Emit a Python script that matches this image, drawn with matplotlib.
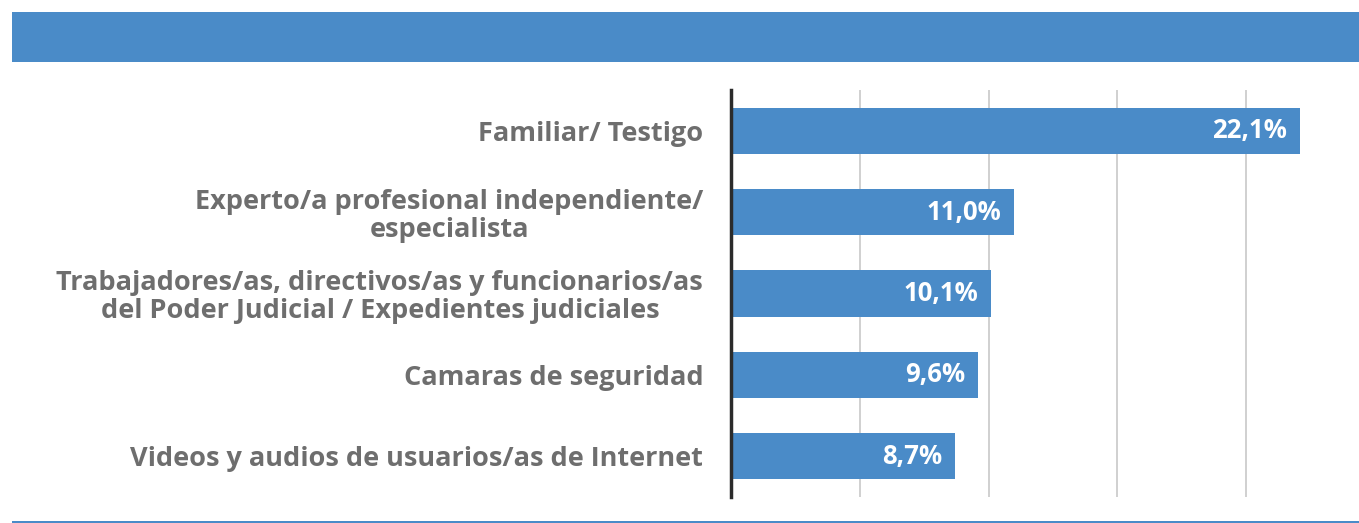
import matplotlib
matplotlib.use("Agg")
import matplotlib.pyplot as plt
from matplotlib.patches import Rectangle

# Data
categories = [
    "Familiar/ Testigo",
    "Experto/a profesional independiente/\nespecialista",
    "Trabajadores/as, directivos/as y funcionarios/as\ndel Poder Judicial / Expedientes judiciales",
    "Camaras de seguridad",
    "Videos y audios de usuarios/as de Internet",
]
values = [22.1, 11.0, 10.1, 9.6, 8.7]
value_labels = ["22,1%", "11,0%", "10,1%", "9,6%", "8,7%"]
grid_ticks = [5, 10, 15, 20]

BLUE = "#4a8bc8"
GRAY = "#6e6e6e"

W, H = 1359, 523
fig = plt.figure(figsize=(W / 100, H / 100), dpi=100)
fig.patch.set_facecolor("white")

# Header band and bottom rule (figure pixel coordinates, origin bottom-left)
fig.patches.append(Rectangle((12 / W, 1 - 62 / H), 1 - 12 / W, 50 / H,
                             transform=fig.transFigure, facecolor=BLUE,
                             edgecolor="none", zorder=0))
fig.patches.append(Rectangle((12 / W, 0), 1 - 12 / W, 2.5 / H,
                             transform=fig.transFigure, facecolor=BLUE,
                             edgecolor="none", zorder=0))

ax_left, ax_right = 731, 1345
ax_top, ax_bottom = 90, 497
ax = fig.add_axes([ax_left / W, 1 - ax_bottom / H,
                   (ax_right - ax_left) / W, (ax_bottom - ax_top) / H])

px_per_unit = 25.75
ax.set_xlim(0, (ax_right - ax_left) / px_per_unit)
ax.set_ylim(len(values) - 0.5, -0.5)

y = list(range(len(values)))
ax.barh(y, values, height=0.57, color=BLUE, zorder=2)

for xv in grid_ticks:
    ax.axvline(xv, color="#c8c8c8", lw=1.2, zorder=1)

for spine in ["top", "right", "bottom"]:
    ax.spines[spine].set_visible(False)
ax.spines["left"].set_color("#2b2b2b")
ax.spines["left"].set_linewidth(2.5)
ax.set_xticks([])
ax.set_yticks(y)
ax.set_yticklabels(categories, fontsize=19.5, fontweight="bold", color=GRAY,
                   family="Open Sans", linespacing=1.1, multialignment="center")
ax.tick_params(axis="y", length=0, pad=20)

for yi, v, lab in zip(y, values, value_labels):
    ax.text(v - 13 / px_per_unit, yi, lab, ha="right", va="center",
            color="white", fontsize=18.5, fontweight="bold", family="Open Sans",
            zorder=3)

fig.savefig("out.png", dpi=100, facecolor="white")
